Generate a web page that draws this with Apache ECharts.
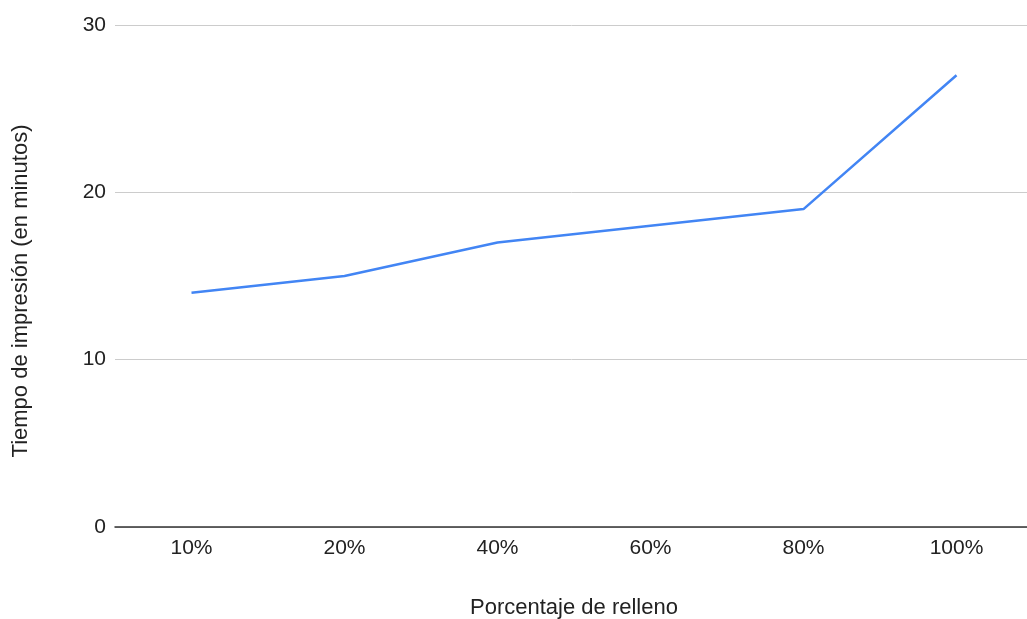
<!DOCTYPE html>
<html>
<head>
<meta charset="utf-8">
<script src="https://cdn.jsdelivr.net/npm/echarts@6/dist/echarts.min.js"></script>
<style>
  html, body { margin: 0; padding: 0; background: #fff; }
  #chart { width: 1027px; height: 619px; }
</style>
</head>
<body>
<div id="chart"></div>
<script>
// data
const categories = ['10%', '20%', '40%', '60%', '80%', '100%']
const printTime = [14, 15, 17, 18, 19, 27]
const yTicks = { min: 0, max: 30, interval: 10 }

const chart = echarts.init(document.getElementById('chart'))
chart.setOption({
    animation: false,
    textStyle: { fontFamily: 'Liberation Sans, Arial, sans-serif' },
    grid: {
        left: 115,
        width: 918, // plot runs a little past the right edge, as in the reference
        top: 25,
        bottom: 92,
        outerBoundsMode: 'none',
        containLabel: false,
    },
    xAxis: {
        type: 'category',
        data: categories,
        boundaryGap: true,
        name: 'Porcentaje de relleno',
        nameLocation: 'center',
        nameGap: 70,
        nameTextStyle: { color: '#222', fontSize: 22 },
        axisTick: { show: false },
        axisLine: { lineStyle: { color: '#333', width: 1.5 } },
        axisLabel: { color: '#222', fontSize: 21, margin: 11 },
    },
    yAxis: {
        type: 'value',
        min: yTicks.min,
        max: yTicks.max,
        interval: yTicks.interval,
        name: 'Tiempo de impresión (en minutos)',
        nameLocation: 'center',
        nameGap: 83,
        // the title sits a bit below the plot's middle
        nameTextStyle: { color: '#222', fontSize: 22, padding: [0, 30, 0, 0] },
        axisLine: { show: false },
        axisTick: { show: false },
        axisLabel: { color: '#222', fontSize: 21, margin: 9 },
        splitLine: { lineStyle: { color: '#ccc', width: 1 } },
    },
    series: [
        {
            type: 'line',
            data: printTime,
            symbol: 'none',
            lineStyle: { color: '#4285f4', width: 2.5 },
        },
    ],
})
</script>
</body>
</html>
